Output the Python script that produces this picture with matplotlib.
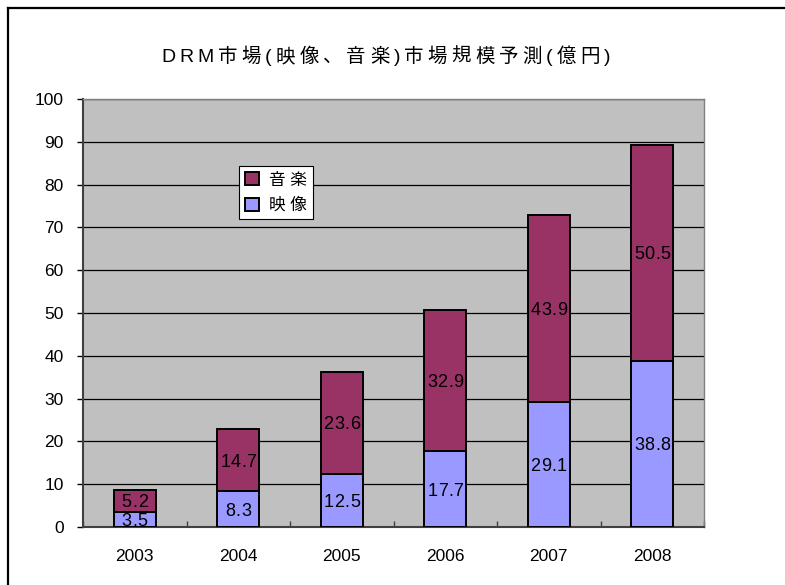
import matplotlib.pyplot as plt
import matplotlib.transforms as mtransforms
import numpy as np
from matplotlib.lines import Line2D

plt.rcParams['font.family'] = ['Liberation Sans', 'Noto Sans CJK JP', 'DejaVu Sans']

# data
years = ['2003', '2004', '2005', '2006', '2007', '2008']
eizo = [3.5, 8.3, 12.5, 17.7, 29.1, 38.8]     # 映像
ongaku = [5.2, 14.7, 23.6, 32.9, 43.9, 50.5]  # 音楽
title = 'DRM市場(映像、音楽)市場規模予測(億円)'

W, H = 785, 585
fig = plt.figure(figsize=(W/100, H/100), dpi=100)
ax = fig.add_axes([83/W, 58/H, 621/W, 428/H])
ax.set_facecolor('#C0C0C0')


def spaced_text(x, y, s, transform, gap=None, total=None, **kw):
    # excel stretches its chart text, so draw char by char with extra spacing
    r = fig.canvas.get_renderer()
    ws = []
    for ch in s:
        t = fig.text(0, 0, ch, **kw)
        ws.append(t.get_window_extent(r).width)
        t.remove()
    if total is not None:
        gap = (total - sum(ws)) / (len(s) - 1)
    tot = sum(ws) + gap * (len(s) - 1)
    pos = -tot / 2
    for ch, w in zip(s, ws):
        tr = mtransforms.offset_copy(transform, fig=fig, x=pos + w/2, y=0, units='dots')
        fig.text(x, y, ch, transform=tr, ha='center', va='baseline', zorder=5, **kw)
        pos += w + gap


x = np.arange(len(years))
w = 0.41
ax.bar(x, eizo, w, color='#9999FF', edgecolor='black', linewidth=1.4, label='映 像', zorder=3)
ax.bar(x, ongaku, w, bottom=eizo, color='#993366', edgecolor='black', linewidth=1.4, label='音 楽', zorder=3)

ax.set_xlim(-0.5, len(years) - 0.5)
ax.set_ylim(0, 100)
ax.set_yticks(np.arange(0, 101, 10))
ax.yaxis.grid(True, color='black', linewidth=0.9, zorder=1)
ax.set_axisbelow(True)

ax.set_xticks(x)
ax.set_xticklabels(years)
ax.set_xticks(np.arange(-0.5, len(years), 1), minor=True)
ax.tick_params(axis='x', which='major', length=0, pad=16, labelsize=12.5)
ax.tick_params(axis='x', which='minor', direction='in', length=4, width=1, color='#404040')
ax.tick_params(axis='y', length=4, width=1, pad=10, labelsize=12.5)

for s in ['left', 'bottom']:
    ax.spines[s].set_color('#404040')
    ax.spines[s].set_linewidth(1.5)
for s in ['top', 'right']:
    ax.spines[s].set_color('#808080')
    ax.spines[s].set_linewidth(1)

# segment labels
lab_fs = 13
dy = -0.36 * lab_fs * 100 / 72
for i in range(len(years)):
    for val, mid in [(eizo[i], eizo[i]/2), (ongaku[i], eizo[i] + ongaku[i]/2)]:
        tr = mtransforms.offset_copy(ax.transData, fig=fig, x=0, y=dy, units='dots')
        spaced_text(x[i], mid, f'{val}', tr, gap=0.5, fontsize=lab_fs, color='black')

h, l = ax.get_legend_handles_labels()
leg = ax.legend(h[::-1], l[::-1], loc='upper left', bbox_to_anchor=(156/621, 1 - 67/428),
                fontsize=12, frameon=True, fancybox=False, shadow=False,
                handlelength=0.8, handleheight=0.8, handletextpad=0.6,
                borderpad=0.38, labelspacing=0.6, borderaxespad=0)
leg.get_frame().set_edgecolor('black')
leg.get_frame().set_linewidth(0.8)
leg.get_frame().set_facecolor('white')
leg.get_frame().set_alpha(1)

spaced_text(385.5/W, 1 - 62/H, title, fig.transFigure, total=449, fontsize=14)

# outer chart border
fig.add_artist(Line2D([8/W, 8/W], [0, 1 - 8/H], transform=fig.transFigure, color='black', linewidth=1.6))
fig.add_artist(Line2D([8/W, 1], [1 - 8/H, 1 - 8/H], transform=fig.transFigure, color='black', linewidth=1.6))

fig.savefig('out.png', dpi=100)
